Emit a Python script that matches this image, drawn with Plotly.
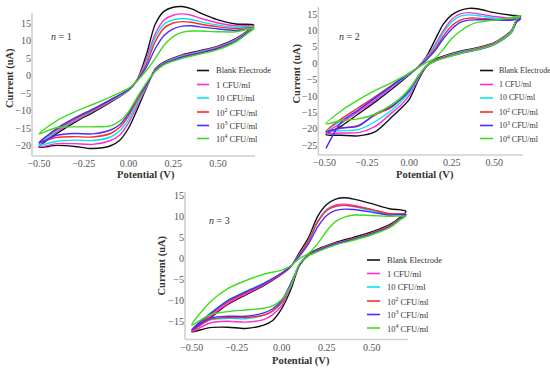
import plotly.graph_objects as go

W, H = 550, 370
SERIF = "Liberation Serif"

SERIES = ["Blank Electrode", "1 CFU/ml", "10 CFU/ml", "10<sup>2</sup> CFU/ml",
          "10<sup>3</sup> CFU/ml", "10<sup>4</sup> CFU/ml"]
COLORS = ["#111111", "#ff2bd6", "#00e6ee", "#ff2a2a", "#4a2cff", "#3fdc1e"]

X_TICKS = [-0.50, -0.25, 0.00, 0.25, 0.50]
X_LABELS = ["\u22120.50", "\u22120.25", "0.00", "0.25", "0.50"]
Y1_TICKS = [15, 10, 5, 0, -5, -10, -15, -20]
Y2_TICKS = [15, 10, 5, 0, -5, -10, -15, -20, -25]
Y3_TICKS = [15, 10, 5, 0, -5, -10, -15]

# ---- panel n = 1 ----
E_P1 = [-0.50, -0.40, -0.30, -0.20, -0.10, 0.00, 0.05, 0.10, 0.15, 0.20, 0.25, 0.30, 0.35, 0.40, 0.50, 0.60, 0.70,
        0.67, 0.60, 0.50, 0.40, 0.30, 0.20, 0.15, 0.10, 0.05, 0.00, -0.05, -0.10, -0.20, -0.30, -0.40, -0.50]
P1_BLANK = [-20.4, -16.5, -13.3, -10.5, -7.5, -4.2, -1.0, 6.0, 14.8, 18.5, 19.6, 19.8, 19.2, 18.0, 16.0, 14.8, 14.5,
            13.0, 10.6, 8.5, 7.2, 6.0, 4.0, 2.0, -3.5, -9.5, -15.0, -18.5, -20.0, -20.8, -20.2, -19.9, -20.4]
P1_1 = [-20.3, -16.0, -12.9, -10.2, -7.3, -4.1, -1.1, 4.8, 12.0, 16.0, 17.3, 17.7, 17.3, 16.5, 15.1, 14.3, 14.2,
        12.8, 10.4, 8.3, 7.0, 5.8, 3.8, 1.8, -3.2, -8.5, -13.5, -17.0, -18.5, -19.6, -19.4, -19.4, -20.3]
P1_10 = [-19.8, -15.6, -12.6, -10.0, -7.2, -4.1, -1.2, 4.0, 11.0, 14.8, 16.0, 16.4, 16.1, 15.5, 14.5, 13.9, 14.0,
         12.7, 10.2, 8.1, 6.8, 5.6, 3.6, 1.6, -3.0, -7.8, -12.5, -15.8, -17.5, -18.5, -18.4, -18.7, -19.8]
P1_100 = [-19.0, -15.3, -12.3, -9.8, -7.0, -4.0, -1.2, 3.3, 9.8, 13.7, 15.1, 15.5, 15.3, 14.8, 14.0, 13.5, 13.8,
          12.6, 10.0, 8.0, 6.6, 5.4, 3.5, 1.5, -2.8, -7.0, -11.5, -14.8, -16.5, -17.5, -17.4, -17.6, -19.0]
P1_1000 = [-19.3, -15.0, -12.0, -9.5, -6.8, -3.9, -1.3, 2.5, 7.8, 11.6, 13.4, 14.2, 14.3, 14.0, 13.4, 13.0, 13.5,
           12.5, 9.9, 7.8, 6.5, 5.3, 3.4, 1.4, -2.6, -6.3, -10.8, -14.0, -15.5, -16.6, -16.5, -17.0, -19.3]
P1_10000 = [-16.6, -12.8, -10.3, -8.2, -6.0, -3.6, -1.4, 1.5, 5.0, 8.8, 11.2, 12.4, 12.8, 12.8, 12.6, 12.6, 13.6,
            12.3, 9.7, 7.5, 6.2, 5.0, 3.2, 1.2, -2.0, -6.0, -10.3, -13.0, -14.3, -14.6, -14.6, -14.8, -16.6]

# ---- panel n = 2 ----
E_P2 = [-0.49, -0.40, -0.30, -0.20, -0.10, 0.00, 0.05, 0.10, 0.15, 0.20, 0.25, 0.30, 0.35, 0.40, 0.50, 0.60, 0.655,
        0.63, 0.60, 0.50, 0.40, 0.30, 0.20, 0.15, 0.10, 0.05, 0.00, -0.05, -0.10, -0.20, -0.30, -0.40, -0.49]
P2_BLANK = [-21.8, -19.2, -15.5, -11.8, -7.8, -3.5, -1.2, 2.0, 7.0, 12.0, 14.8, 16.2, 16.8, 16.7, 15.5, 14.7, 14.4,
            13.3, 10.0, 6.3, 4.8, 3.7, 2.2, 1.2, -1.0, -5.5, -11.0, -13.8, -16.3, -20.9, -22.2, -22.0, -21.8]
P2_1 = [-21.3, -18.3, -14.8, -11.2, -7.3, -3.3, -1.3, 1.8, 5.5, 10.0, 13.5, 15.1, 15.5, 15.2, 14.3, 13.8, 14.0,
        13.0, 9.8, 6.2, 4.6, 3.5, 2.0, 1.0, -0.8, -5.0, -9.8, -12.8, -15.0, -19.3, -21.2, -21.3, -21.3]
P2_10 = [-20.8, -17.5, -14.2, -10.7, -7.0, -3.2, -1.3, 1.5, 5.0, 9.3, 12.7, 14.4, 14.8, 14.6, 13.9, 13.6, 13.9,
         12.9, 9.7, 6.1, 4.5, 3.4, 1.9, 0.9, -0.8, -4.6, -9.0, -11.8, -14.2, -17.8, -20.3, -20.6, -20.8]
P2_100 = [-20.8, -17.0, -13.6, -10.2, -6.6, -3.0, -1.3, 1.2, 4.3, 8.3, 11.5, 13.2, 13.8, 13.8, 13.4, 13.3, 13.8,
          12.8, 9.6, 6.0, 4.4, 3.2, 1.8, 0.8, -0.8, -4.3, -8.3, -11.0, -13.3, -15.8, -19.0, -19.8, -20.8]
P2_1000 = [-26.0, -18.0, -14.3, -10.5, -6.8, -3.1, -1.4, 1.0, 3.8, 7.5, 10.5, 12.5, 13.2, 13.3, 13.3, 13.2, 13.6,
           12.5, 9.3, 5.7, 4.1, 3.0, 1.6, 0.7, -0.9, -4.2, -8.3, -11.0, -13.0, -15.5, -19.2, -19.8, -21.0]
P2_10000 = [-18.5, -14.5, -11.2, -8.3, -5.8, -3.0, -1.3, 0.2, 1.5, 4.3, 7.6, 9.8, 11.5, 12.5, 13.2, 14.0, 14.6,
            13.5, 9.5, 5.8, 4.2, 3.0, 1.5, 0.6, -0.8, -4.0, -7.8, -10.5, -12.5, -15.5, -17.0, -17.5, -18.5]

# ---- panel n = 3 ----
E_P3 = [-0.50, -0.40, -0.30, -0.20, -0.10, 0.00, 0.05, 0.10, 0.15, 0.20, 0.25, 0.30, 0.35, 0.40, 0.50, 0.60, 0.69,
        0.66, 0.60, 0.50, 0.40, 0.30, 0.20, 0.15, 0.10, 0.05, 0.00, -0.05, -0.10, -0.20, -0.30, -0.40, -0.50]
P3_BLANK = [-17.5, -14.3, -11.0, -8.7, -6.5, -3.8, -2.0, 1.5, 5.0, 10.0, 12.8, 14.1, 14.4, 14.1, 13.0, 11.8, 11.2,
            9.8, 8.0, 6.3, 5.0, 3.8, 2.2, 1.0, -1.6, -7.5, -12.0, -14.8, -15.9, -16.7, -16.4, -16.5, -17.5]
P3_1 = [-17.5, -14.0, -10.8, -8.5, -6.3, -3.7, -2.0, 1.0, 4.3, 8.8, 11.6, 12.7, 12.9, 12.6, 11.6, 10.6, 10.5,
        9.6, 7.8, 6.0, 4.7, 3.6, 2.0, 0.9, -1.5, -6.8, -11.2, -13.4, -14.6, -15.2, -15.0, -15.4, -17.5]
P3_10 = [-17.0, -13.2, -10.0, -7.9, -5.9, -3.5, -1.9, 1.0, 4.3, 8.8, 11.5, 12.4, 12.6, 12.3, 11.3, 10.4, 10.3,
         9.5, 7.6, 5.9, 4.6, 3.5, 1.9, 0.8, -1.5, -6.4, -10.6, -12.6, -13.6, -14.4, -14.3, -14.7, -17.0]
P3_100 = [-17.3, -13.6, -10.4, -8.2, -6.1, -3.6, -1.9, 0.9, 4.2, 8.6, 11.4, 12.4, 12.6, 12.4, 11.6, 10.6, 10.4,
          9.5, 7.7, 5.9, 4.6, 3.5, 1.9, 0.8, -1.5, -6.3, -10.4, -12.5, -13.5, -14.1, -14.1, -14.6, -17.3]
P3_1000 = [-17.0, -13.3, -10.1, -8.0, -6.0, -3.5, -1.9, 0.6, 3.5, 7.5, 10.2, 11.4, 11.7, 11.6, 11.0, 10.3, 10.4,
           9.4, 7.5, 5.8, 4.5, 3.4, 1.8, 0.7, -1.5, -6.0, -10.0, -12.0, -13.0, -13.8, -13.8, -14.3, -17.0]
P3_10000 = [-15.9, -10.5, -7.2, -5.3, -3.8, -2.8, -1.8, 0.0, 1.2, 3.5, 6.5, 8.8, 9.8, 10.3, 10.2, 10.0, 10.0,
            9.2, 7.3, 5.6, 4.3, 3.2, 1.6, 0.6, -1.2, -6.5, -9.8, -11.3, -11.9, -12.3, -12.7, -13.5, -15.9]

PANELS = [
    dict(E=E_P1, data=[P1_BLANK, P1_1, P1_10, P1_100, P1_1000, P1_10000], label="<i>n</i> = 1",
         xpx=(32, 255), ypx=(156, 4.1), xr=(-0.539, 0.707), yr=(-22.93, 20.5), ytop=18.0, yt=Y1_TICKS,
         leg=(197, 209, 214, [70.5, 84.5, 98, 112, 125.5, 138.5], 8.5),
         title_y=(10, 78), title_x=(146, 175.5), lab=(61, 37)),
    dict(E=E_P2, data=[P2_BLANK, P2_1, P2_10, P2_100, P2_1000, P2_10000], label="<i>n</i> = 2",
         xpx=(318.3, 523.2), ypx=(155, 3), xr=(-0.5353, 0.67), yr=(-28.04, 18.44), ytop=17.3, yt=Y2_TICKS,
         leg=(480, 493, 497, [70.5, 84.5, 98, 112, 125.5, 138.5], 8),
         title_y=(296.5, 74), title_x=(425, 175), lab=(349, 37)),
    dict(E=E_P3, data=[P3_BLANK, P3_1, P3_10, P3_100, P3_1000, P3_10000], label="<i>n</i> = 3",
         xpx=(185, 408), ypx=(339.5, 190), xr=(-0.5372, 0.7017), yr=(-19.33, 16.26), ytop=15.86, yt=Y3_TICKS,
         leg=(367, 380, 385, [260, 273.5, 287, 301, 314.5, 328], 8.5),
         title_y=(161.5, 266), title_x=(301, 361), lab=(219, 220)),
]


def fx(x):
    return x / W


def fy(y):
    return 1 - y / H


fig = go.Figure()
layout = dict(width=W, height=H, autosize=False, margin=dict(l=0, r=0, t=0, b=0, pad=0),
              paper_bgcolor="white", plot_bgcolor="white", showlegend=False)
shapes, annotations = [], []
tickfont = dict(family=SERIF, size=10, color="#555555")
titlefont = dict(family=SERIF, size=10.5, color="#333333")

for i, p in enumerate(PANELS, start=1):
    sx = "" if i == 1 else str(i)
    xa, ya = "x" + sx, "y" + sx
    for name, vals, col in zip(SERIES, p["data"], COLORS):
        fig.add_trace(go.Scatter(x=p["E"], y=vals, mode="lines", name=name, xaxis=xa, yaxis=ya,
                                 line=dict(color=col, width=1.4, shape="spline", smoothing=0.8),
                                 hoverinfo="skip"))
    layout["xaxis" + sx] = dict(domain=[fx(p["xpx"][0]), fx(p["xpx"][1])], range=list(p["xr"]), anchor=ya,
                                showgrid=False, zeroline=False, showline=False, ticks="", automargin=False,
                                tickvals=X_TICKS, ticktext=X_LABELS, tickfont=tickfont)
    layout["yaxis" + sx] = dict(domain=[fy(p["ypx"][0]), fy(p["ypx"][1])], range=list(p["yr"]), anchor=xa,
                                showgrid=False, zeroline=False, showline=False, ticks="", automargin=False,
                                tickvals=p["yt"], ticktext=[str(v).replace("-", "\u2212") for v in p["yt"]],
                                tickfont=tickfont)
    # axis frame lines (light grey L)
    shapes.append(dict(type="line", xref=xa + " domain", yref=ya, x0=0, x1=0, y0=p["yr"][0], y1=p["ytop"],
                       line=dict(color="#cfcfcf", width=1.6), layer="below"))
    shapes.append(dict(type="line", xref=xa + " domain", yref=ya + " domain", x0=0, x1=1, y0=0, y1=0,
                       line=dict(color="#cfcfcf", width=1.6), layer="below"))
    # legend
    lx0, lx1, tx, rows, lsize = p["leg"]
    for name, col, ry in zip(SERIES, COLORS, rows):
        shapes.append(dict(type="line", xref="paper", yref="paper", x0=fx(lx0), x1=fx(lx1), y0=fy(ry), y1=fy(ry),
                           line=dict(color=col, width=1.6)))
        annotations.append(dict(text=name, xref="paper", yref="paper", x=fx(tx), y=fy(ry), xanchor="left",
                                yanchor="middle", showarrow=False,
                                font=dict(family=SERIF, size=lsize, color="#333333")))
    # titles
    annotations.append(dict(text="<b>Current (uA)</b>", xref="paper", yref="paper", x=fx(p["title_y"][0]),
                            y=fy(p["title_y"][1]), textangle=-90, showarrow=False, xanchor="center",
                            yanchor="middle", font=titlefont))
    annotations.append(dict(text="<b>Potential (V)</b>", xref="paper", yref="paper", x=fx(p["title_x"][0]),
                            y=fy(p["title_x"][1]), showarrow=False, xanchor="center", yanchor="middle",
                            font=titlefont))
    annotations.append(dict(text=p["label"], xref="paper", yref="paper", x=fx(p["lab"][0]), y=fy(p["lab"][1]),
                            showarrow=False, xanchor="center", yanchor="middle",
                            font=dict(family=SERIF, size=10, color="#333333")))

layout["shapes"] = shapes
layout["annotations"] = annotations
fig.update_layout(**layout)
fig.write_html("out.html", config={"displayModeBar": False, "staticPlot": True},
               post_script="document.body.style.margin='0';")
